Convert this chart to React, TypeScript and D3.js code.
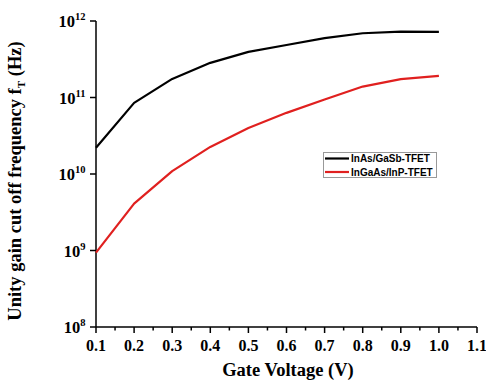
import React from "react";
import * as d3 from "d3";

const gateVoltage = [0.1, 0.2, 0.3, 0.4, 0.5, 0.6, 0.7, 0.8, 0.9, 1.0];
const inasGasb = [2.2e10, 8.5e10, 1.75e11, 2.84e11, 3.95e11, 4.86e11, 5.96e11, 6.92e11, 7.26e11, 7.2e11];
const ingaasInp = [9.4e8, 4.1e9, 1.09e10, 2.26e10, 4.0e10, 6.3e10, 9.4e10, 1.39e11, 1.74e11, 1.92e11];
const xTicks = [0.1, 0.2, 0.3, 0.4, 0.5, 0.6, 0.7, 0.8, 0.9, 1.0, 1.1];
const yExponents = [8, 9, 10, 11, 12];
const seriesNames = ["InAs/GaSb-TFET", "InGaAs/InP-TFET"];
const seriesColors = ["#000000", "#e0201f"];

const W = 486;
const H = 383;
const serif = "'Liberation Serif', 'Times New Roman', serif";
const sans = "'Liberation Sans', Arial, sans-serif";

export default function App() {
  const x = d3.scaleLinear().domain([0.1, 1.1]).range([96, 477]);
  const y = d3.scaleLog().domain([1e8, 1e12]).range([327, 21]);
  const line = d3
    .line<number>()
    .x((_, i) => x(gateVoltage[i]))
    .y((d) => y(d))
    .curve(d3.curveLinear);

  const minorTicks = d3.range(0, 10).map((i) => 0.15 + i * 0.1);
  const series = [inasGasb, ingaasInp];

  return (
    <svg width={W} height={H} style={{ position: "absolute", left: 0, top: 0, background: "#fff" }}>
      <rect x={0} y={0} width={W} height={H} fill="#fff" />
      {/* axes */}
      <line x1={x(0.1)} x2={x(0.1)} y1={y(1e12)} y2={y(1e8)} stroke="#000" strokeWidth={1.5} />
      <line x1={x(0.1)} x2={x(1.1)} y1={y(1e8)} y2={y(1e8)} stroke="#000" strokeWidth={1.5} />
      {yExponents.map((e) => (
        <g key={e}>
          <line x1={x(0.1) - 6} x2={x(0.1)} y1={y(Math.pow(10, e))} y2={y(Math.pow(10, e))} stroke="#000" strokeWidth={1.5} />
          <text
            x={85.5}
            y={y(Math.pow(10, e)) + 6}
            textAnchor="end"
            fontFamily={serif}
            fontWeight="bold"
            fontSize={16.5}
          >
            10
            <tspan fontSize={10.5} dy={-7}>{e}</tspan>
          </text>
        </g>
      ))}
      {xTicks.map((t) => (
        <g key={t}>
          <line x1={x(t)} x2={x(t)} y1={y(1e8)} y2={y(1e8) + 6} stroke="#000" strokeWidth={1.5} />
          <text
            x={x(t)}
            y={351}
            textAnchor="middle"
            fontFamily={serif}
            fontWeight="bold"
            fontSize={16}
          >
            {t.toFixed(1)}
          </text>
        </g>
      ))}
      {minorTicks.map((t) => (
        <line key={t} x1={x(t)} x2={x(t)} y1={y(1e8)} y2={y(1e8) + 3.5} stroke="#000" strokeWidth={1.5} />
      ))}
      {/* axis titles */}
      <text x={288} y={376} textAnchor="middle" fontFamily={serif} fontWeight="bold" fontSize={18.5}>
        Gate Voltage (V)
      </text>
      <text
        transform="translate(21,181) rotate(-90)"
        textAnchor="middle"
        fontFamily={serif}
        fontWeight="bold"
        fontSize={18.5}
      >
        Unity gain cut off frequency f
        <tspan fontSize={11} dy={4}>T</tspan>
        <tspan dy={-4}> (Hz)</tspan>
      </text>
      {/* series */}
      {series.map((s, i) => (
        <path key={i} d={line(s) || ""} fill="none" stroke={seriesColors[i]} strokeWidth={2.2} strokeLinejoin="round" />
      ))}
      {/* legend */}
      <rect x={323.5} y={152.5} width={113} height={25} fill="#fff" stroke="#999" strokeWidth={1} />
      {seriesNames.map((n, i) => (
        <g key={n}>
          <line x1={325} x2={349} y1={158.5 + i * 13.5} y2={158.5 + i * 13.5} stroke={seriesColors[i]} strokeWidth={2.2} />
          <text x={351} y={162 + i * 13.5} fontFamily={sans} fontWeight="bold" fontSize={10} fill="#000">
            {n}
          </text>
        </g>
      ))}
    </svg>
  );
}
